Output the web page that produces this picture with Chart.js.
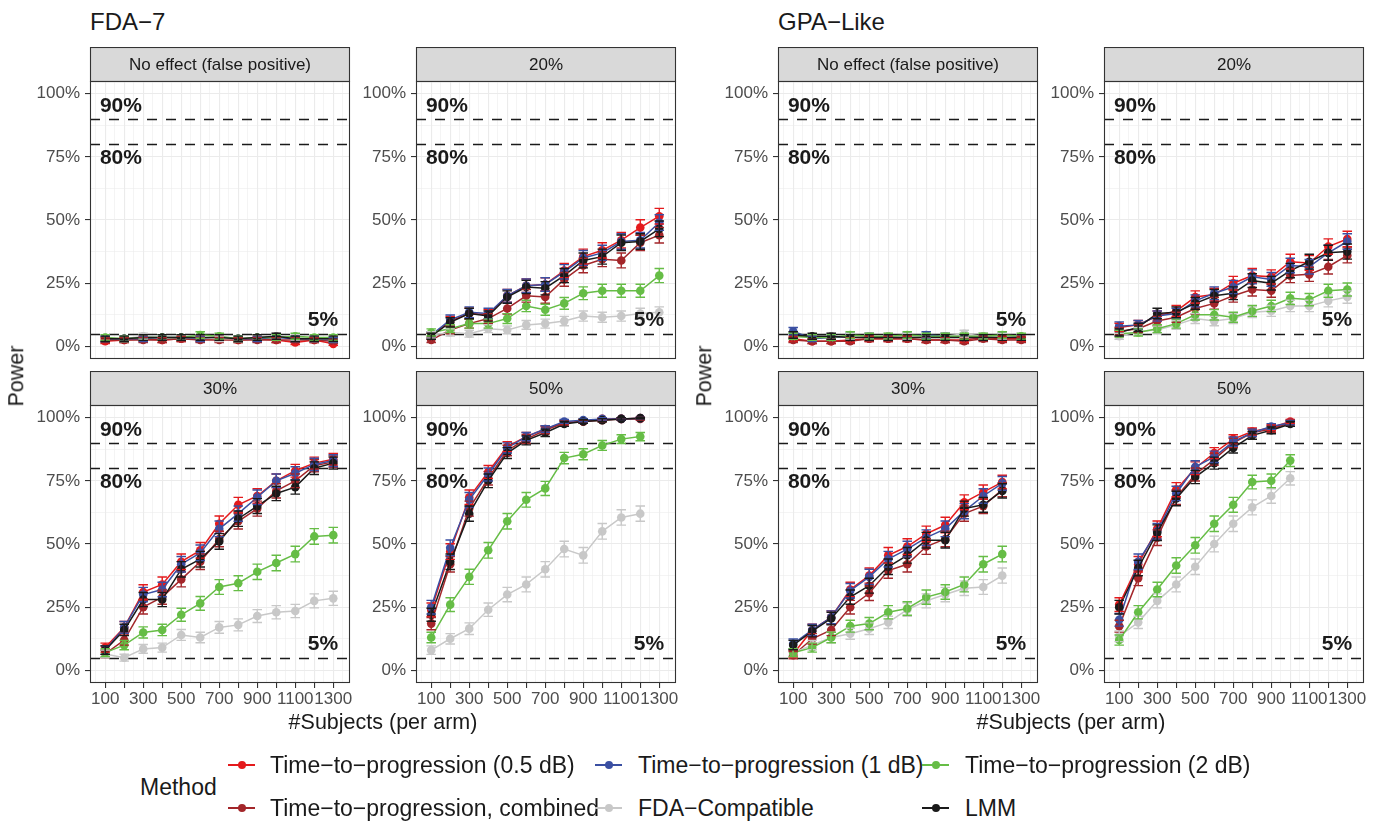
<!DOCTYPE html>
<html>
<head>
<meta charset="utf-8">
<script src="https://cdn.jsdelivr.net/npm/chart.js@4.4.1/dist/chart.umd.min.js"></script>
<style>
  html, body { margin: 0; padding: 0; background: #ffffff; }
  body { width: 1380px; height: 821px; position: relative; overflow: hidden;
         font-family: "Liberation Sans", Arial, Helvetica, sans-serif; color: #1A1A1A; }
  canvas { position: absolute; }
  .txt { position: absolute; white-space: nowrap; line-height: 1; }
</style>
</head>
<body>
<script>
// ---------------- DATA ----------------
const subjects = [100, 200, 300, 400, 500, 600, 700, 800, 900, 1000, 1100, 1200, 1300];
const methodNames = [
  'Time\u2212to\u2212progression (0.5 dB)',
  'Time\u2212to\u2212progression (1 dB)',
  'Time\u2212to\u2212progression (2 dB)',
  'Time\u2212to\u2212progression, combined',
  'FDA\u2212Compatible',
  'LMM'
];
const groupTitles = ['FDA\u22127', 'GPA\u2212Like'];
const facetLabels = ['No effect (false positive)', '20%', '30%', '50%'];
const xGridValues = [50, 100, 150, 200, 250, 300, 350, 400, 450, 500, 550, 600, 650, 700, 750,
                     800, 850, 900, 950, 1000, 1050, 1100, 1150, 1200, 1250, 1300, 1350];
const xLabelValues = [100, 300, 500, 700, 900, 1100, 1300];
const yGridValues = [0, 12.5, 25, 37.5, 50, 62.5, 75, 87.5, 100];
const yLabelValues = [0, 25, 50, 75, 100];
const refLineValues = [5, 80, 90];
const nSimulations = 1000; // error bars: 95% binomial interval

// FDA-7, no effect
const fda7Null_tp05 = [2, 2.5, 3, 2.5, 3, 3, 3, 2.5, 3, 2.5, 1.5, 2.5, 1];
const fda7Null_tp1  = [3, 3, 3, 3.5, 3.5, 3, 3.5, 3, 3, 3.5, 3, 3, 2.5];
const fda7Null_tp2  = [3.5, 3, 3.5, 3.5, 3.5, 4.5, 4, 3, 3.5, 3.5, 4, 3.5, 3.5];
const fda7Null_comb = [2.5, 2.5, 2.5, 2.5, 3, 2.5, 2.5, 2.5, 2.5, 2.5, 2.5, 2.5, 2];
const fda7Null_fdac = [3.5, 3, 4, 3.5, 3.5, 3.5, 3, 3, 3.5, 4, 3.5, 3, 3];
const fda7Null_lmm  = [3, 3, 3.5, 3.5, 3.5, 3.5, 3.5, 3, 3.5, 4, 3, 3, 3];
// FDA-7, 20%
const fda7E20_tp05 = [4, 10, 13, 12.5, 20, 24, 24.5, 30, 35.5, 38, 42, 47, 51.5];
const fda7E20_tp1  = [4.5, 10.5, 13.5, 13, 20, 24, 24.5, 29.5, 35, 37, 41.5, 42, 49];
const fda7E20_tp2  = [5.5, 7, 9, 9, 11, 16, 14.5, 17, 21, 22, 22, 22, 28];
const fda7E20_comb = [2.5, 6.5, 9, 11, 15, 20, 19.5, 26.5, 32, 34.5, 34, 41, 44];
const fda7E20_fdac = [4.5, 5.5, 5, 7, 6.5, 8.5, 9, 10, 12, 11.5, 12, 13, 13.5];
const fda7E20_lmm  = [4, 9.5, 13, 12, 19.5, 23.5, 23, 28, 34, 35.5, 41, 41.5, 46.5];
// FDA-7, 30%
const fda7E30_tp05 = [9, 17, 31, 34, 43, 47.5, 58, 65.5, 69, 75, 79, 82, 83.5];
const fda7E30_tp1  = [8, 17, 30, 32, 42, 46.5, 56, 62, 68.5, 75, 78, 81.5, 83];
const fda7E30_tp2  = [7, 10, 15, 16, 22, 26.5, 33, 34.5, 39, 42.5, 46, 53, 53.5];
const fda7E30_comb = [6.5, 12, 25, 29, 36, 43, 52, 59, 64, 71, 75, 81, 82.5];
const fda7E30_fdac = [6.5, 5, 8.5, 9, 14, 13, 17, 18, 21.5, 23, 23.5, 27.5, 28.5];
const fda7E30_lmm  = [8, 16, 28, 28, 40, 44, 51, 60, 65, 70, 72.5, 80, 82];
// FDA-7, 50%
const fda7E50_tp05 = [24, 47, 68.5, 78.5, 88.5, 92.5, 95.5, 98, 98.5, 99.5, 99.5, 99.8];
const fda7E50_tp1  = [25, 48.5, 67.5, 77.5, 88, 92.5, 95.5, 98.5, 99, 99.5, 99.5, 99.8];
const fda7E50_tp2  = [13, 26, 37, 47.5, 59, 67.5, 72, 84, 85.5, 89, 91.5, 92.5];
const fda7E50_comb = [18.5, 42, 64, 76, 87, 91.5, 95, 98, 98.5, 99, 99.5, 99.5];
const fda7E50_fdac = [8, 12.5, 16.5, 24, 30, 34, 40, 48, 45.5, 55, 60.5, 62];
const fda7E50_lmm  = [22, 43, 62, 75, 86, 91, 94, 97.5, 98.5, 99, 99.5, 99.8];
// GPA-Like, no effect
const gpaNull_tp05 = [3, 2, 2, 2.5, 3, 3, 3, 2.5, 2.5, 2.5, 3.5, 3, 3];
const gpaNull_tp1  = [6, 3, 3.5, 4, 4, 3.5, 4, 4.5, 4, 3.5, 3.5, 4, 3.5];
const gpaNull_tp2  = [4, 3.5, 3.5, 4.5, 4, 4, 4.5, 4, 4, 4, 4, 4.5, 4];
const gpaNull_comb = [2.5, 2, 2, 2, 3, 3, 3, 2.5, 2.5, 2, 3, 2.5, 2.5];
const gpaNull_fdac = [4, 3.5, 4, 4, 4, 4, 4, 3.5, 4, 5, 4, 4, 3.5];
const gpaNull_lmm  = [4.5, 4, 4, 3.5, 3.5, 3.5, 3.5, 3.5, 3.5, 3.5, 3.5, 3.5, 3.5];
// GPA-Like, 20%
const gpaE20_tp05 = [7.5, 8.5, 12, 14, 19.5, 20.5, 25, 28, 27.5, 33.5, 33, 39.5, 42.5];
const gpaE20_tp1  = [8, 8.5, 12, 13, 18, 21, 23.5, 27.5, 26.5, 32, 31.5, 37, 41.5];
const gpaE20_tp2  = [5, 5.5, 7, 9, 12.5, 12.5, 11.5, 14, 16, 19, 18.5, 22, 22.5];
const gpaE20_comb = [6, 7, 10, 11.5, 15, 17, 20, 22.5, 22, 28, 28.5, 31.5, 36];
const gpaE20_fdac = [4, 6, 6.5, 8.5, 11, 10, 11, 13.5, 14, 16, 16, 18, 19.5];
const gpaE20_lmm  = [5.5, 7.5, 13, 13.5, 17, 20, 21, 26, 25, 30, 33.5, 37, 37.5];
// GPA-Like, 30%
const gpaE30_tp05 = [6.5, 16, 21, 32, 37.5, 45.5, 49, 54, 57.5, 66.5, 70.5, 74.5];
const gpaE30_tp1  = [10.5, 16, 21, 31.5, 37, 44, 48, 52.5, 56, 63, 69, 74];
const gpaE30_tp2  = [7, 9, 13, 17.5, 18.5, 23, 24.5, 29, 31, 34, 42, 46];
const gpaE30_comb = [6, 12.5, 16, 25, 30.5, 39.5, 42, 49, 52, 62, 65, 71.5];
const gpaE30_fdac = [7, 10, 13, 14.5, 16.5, 19, 24, 27.5, 30, 32.5, 33, 37.5];
const gpaE30_lmm  = [10, 15.5, 20.5, 29, 33.5, 41, 45.5, 51.5, 51.5, 64, 65.5, 71];
// GPA-Like, 50%
const gpaE50_tp05 = [26, 42, 56, 71.5, 80, 86, 91.5, 94.5, 96, 98.5];
const gpaE50_tp1  = [20, 43, 55, 70, 80.5, 84.5, 90.5, 94, 96.5, 98];
const gpaE50_tp2  = [12, 23, 32, 41.5, 49.5, 58, 65.5, 74.5, 75, 83];
const gpaE50_comb = [17.5, 36.5, 52.5, 68.5, 77.5, 83.5, 90, 94, 95.5, 98];
const gpaE50_fdac = [13.5, 19, 27.5, 34, 41, 50, 58, 64.5, 69, 76];
const gpaE50_lmm  = [25, 40.5, 54.5, 68, 76.5, 82, 88, 93, 95, 97.5];

// ---------------- STYLE / LAYOUT ----------------
const FONT = '"Liberation Sans", Arial, Helvetica, sans-serif';
Chart.defaults.font.family = FONT;
const methodColors = ['#E41A1C', '#3A4FA2', '#66BD46', '#A3262A', '#C8C8C8', '#1A1A1A'];
const methodZ = [5, 3, 1, 4, 2, 0]; // Chart.js order: 0 = drawn on top
const colLefts = [90, 416, 778, 1104];
const rowStripTops = [47, 371];
const PANEL_W = 260, PANEL_H = 278, STRIP_H = 34;
const Y_AXIS_W = 90, RIGHT_PAD = 30, X_AXIS_H = 40, TOP_BOTTOM_PAD = 20;
const TICK_FONT = 17;

const panels = [
  { group: 0, facet: 0, col: 0, row: 0, series: [fda7Null_tp05, fda7Null_tp1, fda7Null_tp2, fda7Null_comb, fda7Null_fdac, fda7Null_lmm] },
  { group: 0, facet: 1, col: 1, row: 0, series: [fda7E20_tp05, fda7E20_tp1, fda7E20_tp2, fda7E20_comb, fda7E20_fdac, fda7E20_lmm] },
  { group: 0, facet: 2, col: 0, row: 1, series: [fda7E30_tp05, fda7E30_tp1, fda7E30_tp2, fda7E30_comb, fda7E30_fdac, fda7E30_lmm] },
  { group: 0, facet: 3, col: 1, row: 1, series: [fda7E50_tp05, fda7E50_tp1, fda7E50_tp2, fda7E50_comb, fda7E50_fdac, fda7E50_lmm] },
  { group: 1, facet: 0, col: 2, row: 0, series: [gpaNull_tp05, gpaNull_tp1, gpaNull_tp2, gpaNull_comb, gpaNull_fdac, gpaNull_lmm] },
  { group: 1, facet: 1, col: 3, row: 0, series: [gpaE20_tp05, gpaE20_tp1, gpaE20_tp2, gpaE20_comb, gpaE20_fdac, gpaE20_lmm] },
  { group: 1, facet: 2, col: 2, row: 1, series: [gpaE30_tp05, gpaE30_tp1, gpaE30_tp2, gpaE30_comb, gpaE30_fdac, gpaE30_lmm] },
  { group: 1, facet: 3, col: 3, row: 1, series: [gpaE50_tp05, gpaE50_tp1, gpaE50_tp2, gpaE50_comb, gpaE50_fdac, gpaE50_lmm] }
];

// reference labels (data coordinates)
const refLabels = [
  { text: '90%', x: 72, y: 95.6, align: 'left' },
  { text: '80%', x: 72, y: 74.7, align: 'left' },
  { text: '5%', x: 1326, y: 10.7, align: 'right' }
];

// ---------------- PLUGIN ----------------
const decoPlugin = {
  id: 'deco',
  beforeDraw(chart, args, opts) {
    const { ctx, chartArea: a } = chart;
    ctx.save();
    ctx.fillStyle = '#D9D9D9';
    ctx.fillRect(a.left, a.top - STRIP_H, a.right - a.left, STRIP_H);
    ctx.strokeStyle = '#333333';
    ctx.lineWidth = 1.1;
    ctx.strokeRect(a.left + 0.5, a.top - STRIP_H + 0.5, a.right - a.left - 1, STRIP_H);
    ctx.fillStyle = '#1A1A1A';
    ctx.font = '17px ' + FONT;
    ctx.textAlign = 'center';
    ctx.textBaseline = 'middle';
    ctx.fillText(opts.strip, (a.left + a.right) / 2, a.top - STRIP_H / 2 + 1);
    ctx.restore();
  },
  beforeDatasetsDraw(chart) {
    const { ctx, chartArea: a, scales } = chart;
    ctx.save();
    ctx.strokeStyle = '#1A1A1A';
    ctx.lineWidth = 1.5;
    ctx.setLineDash([10, 9]);
    refLineValues.forEach(v => {
      const y = Math.round(scales.y.getPixelForValue(v)) + 0.5;
      ctx.beginPath();
      ctx.moveTo(a.left, y);
      ctx.lineTo(a.right, y);
      ctx.stroke();
    });
    ctx.restore();
  },
  afterDatasetsDraw(chart, args, opts) {
    const { ctx, chartArea: a, scales } = chart;
    const xs = scales.x, ys = scales.y;
    ctx.save();
    ctx.beginPath();
    ctx.rect(a.left, a.top, a.right - a.left, a.bottom - a.top);
    ctx.clip();
    // error bars, bottom layer first
    const idx = [0, 1, 2, 3, 4, 5].sort((i, j) => methodZ[j] - methodZ[i]);
    ctx.lineWidth = 1.4;
    idx.forEach(m => {
      const vals = opts.series[m];
      ctx.strokeStyle = methodColors[m];
      vals.forEach((v, k) => {
        const p = v / 100;
        const h = 1.96 * Math.sqrt(p * (1 - p) / nSimulations) * 100;
        const s = subjects[k];
        const x = xs.getPixelForValue(s);
        const x0 = xs.getPixelForValue(s - 25), x1 = xs.getPixelForValue(s + 25);
        const y0 = ys.getPixelForValue(v - h), y1 = ys.getPixelForValue(v + h);
        ctx.beginPath();
        ctx.moveTo(x, y0); ctx.lineTo(x, y1);
        ctx.moveTo(x0, y0); ctx.lineTo(x1, y0);
        ctx.moveTo(x0, y1); ctx.lineTo(x1, y1);
        ctx.stroke();
      });
    });
    // reference labels
    ctx.fillStyle = '#1A1A1A';
    ctx.font = 'bold 21px ' + FONT;
    ctx.textBaseline = 'middle';
    refLabels.forEach(l => {
      ctx.textAlign = l.align;
      ctx.fillText(l.text, xs.getPixelForValue(l.x), ys.getPixelForValue(l.y) + 1);
    });
    ctx.restore();
    // panel border
    ctx.save();
    ctx.strokeStyle = '#333333';
    ctx.lineWidth = 1.1;
    ctx.strokeRect(a.left + 0.5, a.top + 0.5, a.right - a.left - 1, a.bottom - a.top - 1);
    ctx.restore();
  }
};

// ---------------- BUILD ----------------
function makePanel(p) {
  const isBottom = p.row === 1;
  const W = Y_AXIS_W + PANEL_W + RIGHT_PAD;
  const H = STRIP_H + PANEL_H + (isBottom ? X_AXIS_H : TOP_BOTTOM_PAD);
  const cv = document.createElement('canvas');
  cv.width = W; cv.height = H;
  cv.style.width = W + 'px'; cv.style.height = H + 'px';
  cv.style.left = (colLefts[p.col] - Y_AXIS_W) + 'px';
  cv.style.top = rowStripTops[p.row] + 'px';
  document.body.appendChild(cv);

  const datasets = p.series.map((vals, m) => ({
    label: methodNames[m],
    data: vals.map((v, k) => ({ x: subjects[k], y: v })),
    borderColor: methodColors[m],
    backgroundColor: methodColors[m],
    pointBackgroundColor: methodColors[m],
    pointBorderWidth: 0,
    pointRadius: 4.3,
    borderWidth: 1.5,
    tension: 0,
    order: methodZ[m],
    clip: false
  }));

  new Chart(cv, {
    type: 'line',
    data: { datasets },
    plugins: [decoPlugin],
    options: {
      responsive: false,
      animation: false,
      devicePixelRatio: 1,
      events: [],
      layout: { padding: { top: STRIP_H, left: 0, right: RIGHT_PAD, bottom: isBottom ? 0 : TOP_BOTTOM_PAD } },
      plugins: {
        legend: { display: false },
        tooltip: { enabled: false },
        title: { display: false },
        deco: { strip: facetLabels[p.facet], series: p.series }
      },
      scales: {
        x: {
          type: 'linear',
          min: 20, max: 1388,
          afterBuildTicks: s => { s.ticks = xGridValues.map(v => ({ value: v })); },
          afterFit: s => { s.height = isBottom ? X_AXIS_H : 0; },
          border: { display: false },
          grid: {
            color: '#EBEBEB',
            lineWidth: c => (c.tick && c.tick.value % 100 === 0) ? 1.1 : 0.55,
            drawTicks: isBottom,
            tickLength: 5,
            tickWidth: 1.1,
            tickColor: c => (c.tick && c.tick.value % 100 === 0) ? '#333333' : 'rgba(0,0,0,0)'
          },
          ticks: {
            display: isBottom,
            autoSkip: false,
            maxRotation: 0,
            minRotation: 0,
            padding: 1,
            color: '#4D4D4D',
            font: { size: TICK_FONT, family: FONT },
            callback: v => xLabelValues.includes(v) ? String(v) : ''
          }
        },
        y: {
          type: 'linear',
          min: -5, max: 105,
          afterBuildTicks: s => { s.ticks = yGridValues.map(v => ({ value: v })); },
          afterFit: s => { s.width = Y_AXIS_W; },
          border: { display: false },
          grid: {
            color: '#EBEBEB',
            lineWidth: c => (c.tick && yLabelValues.includes(c.tick.value)) ? 1.1 : 0.55,
            drawTicks: true,
            tickLength: 5,
            tickWidth: 1.1,
            tickColor: c => (c.tick && yLabelValues.includes(c.tick.value)) ? '#333333' : 'rgba(0,0,0,0)'
          },
          ticks: {
            autoSkip: false,
            padding: 5,
            color: '#4D4D4D',
            font: { size: TICK_FONT, family: FONT },
            callback: v => yLabelValues.includes(v) ? v + '%' : ''
          }
        }
      }
    }
  });
}
panels.forEach(makePanel);

// ---------------- HTML TEXT ----------------
function addText(str, left, top, css) {
  const d = document.createElement('div');
  d.className = 'txt';
  d.textContent = str;
  d.style.left = left + 'px';
  d.style.top = top + 'px';
  Object.assign(d.style, css || {});
  document.body.appendChild(d);
  return d;
}
[0, 1].forEach(g => {
  addText(groupTitles[g], colLefts[g * 2], 21.7, { fontSize: '24px', transform: 'translateY(-50%)' });
  const cx = (colLefts[g * 2] + colLefts[g * 2 + 1] + PANEL_W) / 2;
  addText('#Subjects (per arm)', cx, 723, { fontSize: '21.5px', transform: 'translate(-50%,-50%)' });
  const yc = g === 0 ? 16.5 : 705;
  addText('Power', yc, 376, { fontSize: '21.5px', transform: 'translate(-50%,-50%) rotate(-90deg)' });
});

// legend
addText('Method', 140, 787, { fontSize: '23px', transform: 'translateY(-50%)' });
const legendRows = [[0, 1, 2], [3, 4, 5]];
const legendRowY = [765, 808];
const legendIconX = [228, 595, 922];
const legendTextX = [270, 638, 965];
const ICON_W = 27;
legendRows.forEach((row, r) => {
  row.forEach((m, c) => {
    const y = legendRowY[r];
    const line = document.createElement('div');
    Object.assign(line.style, { position: 'absolute', left: legendIconX[c] + 'px', top: (y - 0.75) + 'px',
      width: ICON_W + 'px', height: '1.5px', background: methodColors[m] });
    document.body.appendChild(line);
    const dot = document.createElement('div');
    Object.assign(dot.style, { position: 'absolute', left: (legendIconX[c] + ICON_W / 2 - 4) + 'px', top: (y - 4) + 'px',
      width: '8px', height: '8px', borderRadius: '50%', background: methodColors[m] });
    document.body.appendChild(dot);
    addText(methodNames[m], legendTextX[c], y, { fontSize: '23px', transform: 'translateY(-50%)' });
  });
});
</script>
</body>
</html>
